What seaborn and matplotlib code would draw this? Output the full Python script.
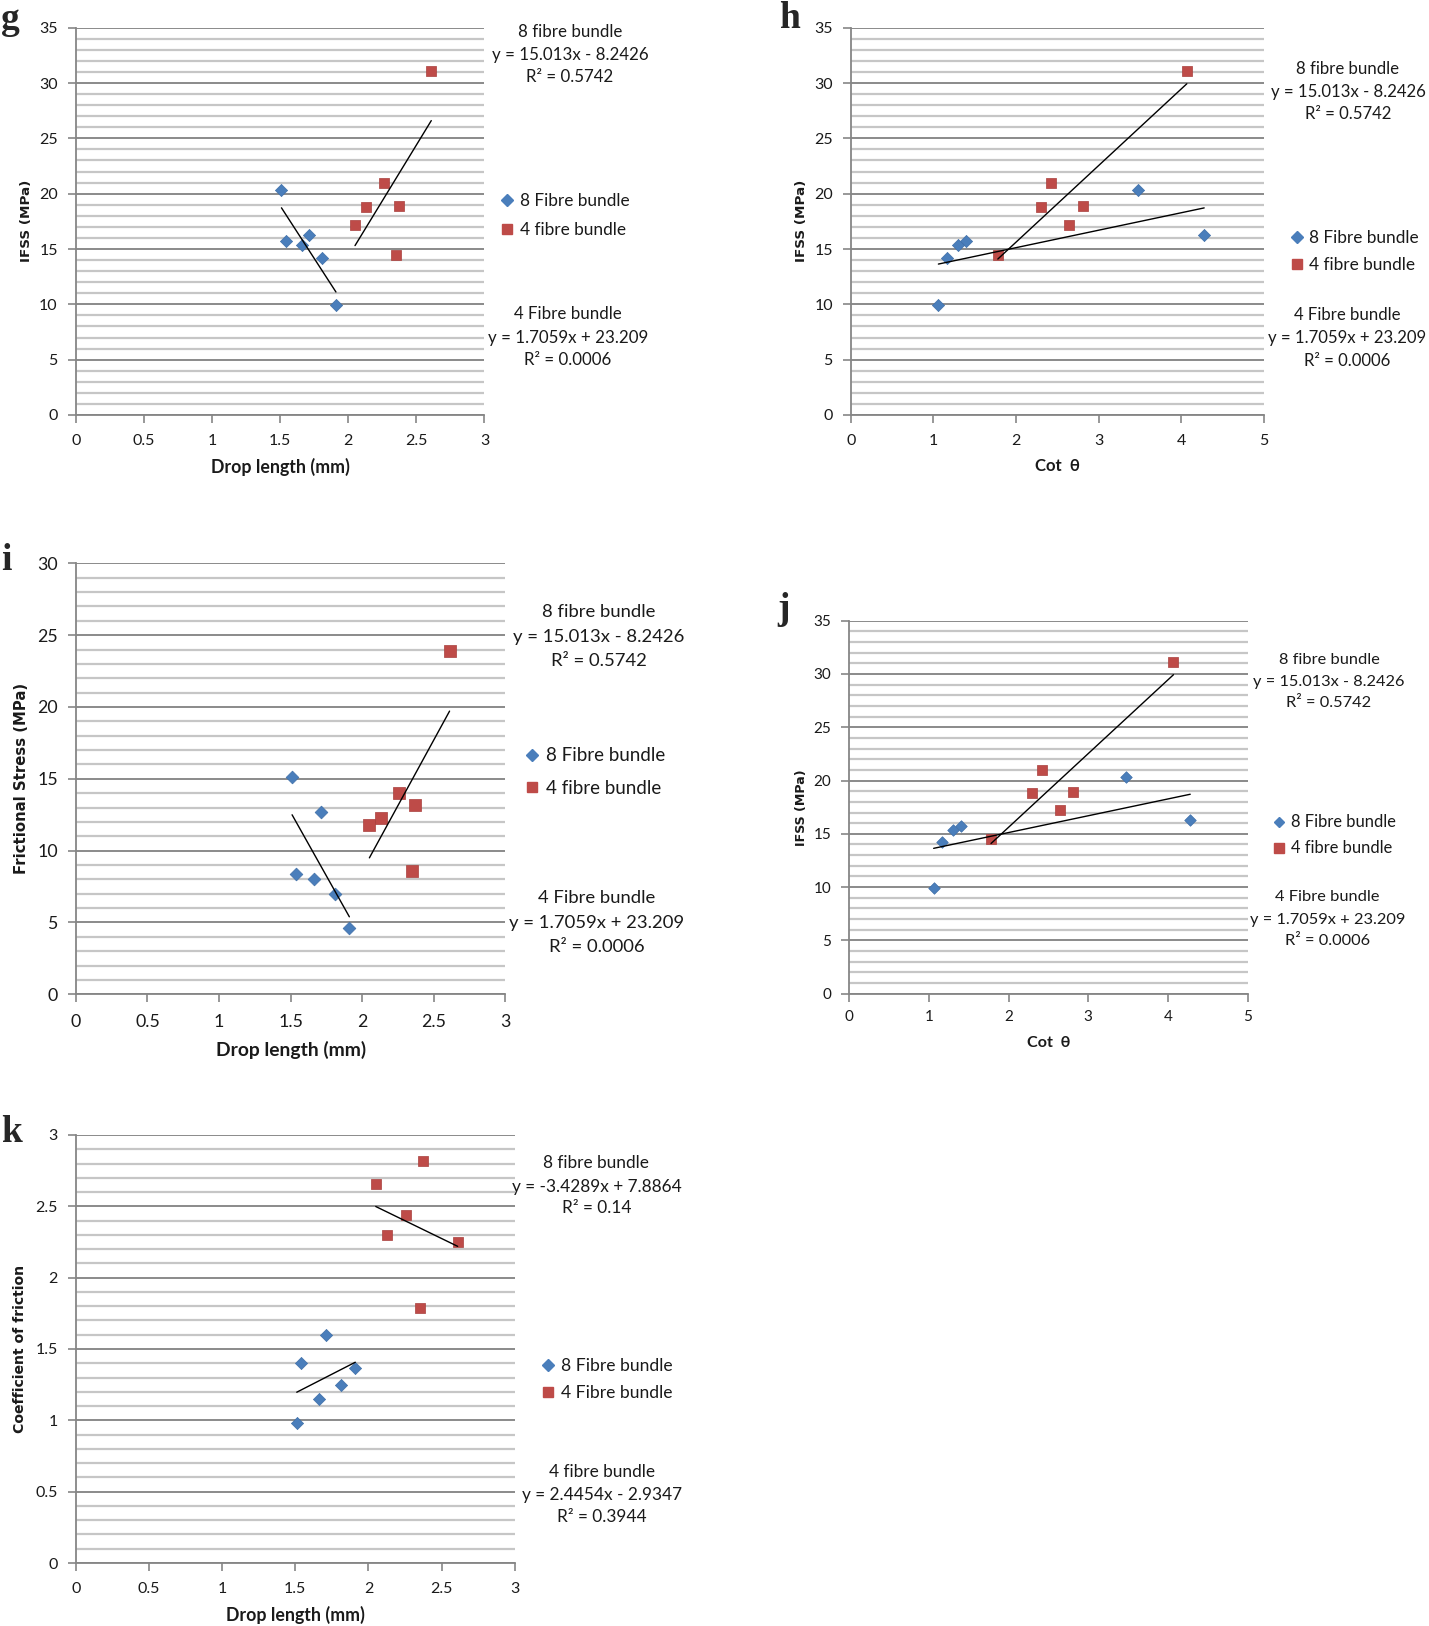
import pandas as pd
import matplotlib
matplotlib.use("Agg")
import matplotlib.pyplot as plt
import seaborn as sns
from matplotlib.lines import Line2D
from matplotlib.ticker import MultipleLocator, FuncFormatter

# values (8 fibre = blue, 4 fibre = red)
drop_8 = [1.51, 1.54, 1.66, 1.71, 1.81, 1.91]
cot_8 = [3.48, 1.40, 1.30, 4.28, 1.16, 1.06]
ifss_8 = [20.3, 15.7, 15.4, 16.3, 14.2, 9.9]
fric_8 = [15.1, 8.4, 8.0, 12.7, 7.0, 4.6]
cof_8 = [0.98, 1.40, 1.15, 1.60, 1.25, 1.37]

drop_4 = [2.05, 2.13, 2.26, 2.35, 2.37, 2.61]
cot_4 = [2.64, 2.30, 2.42, 1.78, 2.81, 4.07]
ifss_4 = [17.2, 18.8, 21.0, 14.5, 18.9, 31.1]
fric_4 = [11.8, 12.3, 14.0, 8.6, 13.2, 23.9]
cof_4 = [2.66, 2.30, 2.44, 1.79, 2.82, 2.25]

# trendline labels as printed in the figure
eq_top = ["8 fibre bundle", "y = 15.013x - 8.2426", "R² = 0.5742"]
eq_bottom = ["4 Fibre bundle", "y = 1.7059x + 23.209", "R² = 0.0006"]
eq_top_k = ["8 fibre bundle", "y = -3.4289x + 7.8864", "R² = 0.14"]
eq_bottom_k = ["4 fibre bundle", "y = 2.4454x - 2.9347", "R² = 0.3944"]

legend_labels = ["8 Fibre bundle", "4 fibre bundle"]
legend_labels_k = ["8 Fibre bundle", "4 Fibre bundle"]

sns.set_style("white")
plt.rcParams["font.family"] = ["Lato", "DejaVu Sans"]

W, H = 1429, 1626
BLUE = "#4A7EBB"
RED = "#BE4B48"
GRID_MAJOR = "#8a8a8a"
GRID_MINOR = "#c6c6c6"
AXIS_GRAY = "#868686"
TXT = "#1a1a1a"

fig = plt.figure(figsize=(W / 100, H / 100), dpi=100)


def px(x, y):
    return x / W, 1 - y / H


def panel(letter, letter_xy, box, x8, y8, x4, y4, xmax, xstep, ymax, ystep, yminor,
          xlabel, ylabel, xlab_y, ylab_x, eq1, eq1_pos, eq2, eq2_pos, labels, leg_pos, fs):
    l, r, t, b = box
    ax = fig.add_axes([l / W, 1 - b / H, (r - l) / W, (b - t) / H])

    df8 = pd.DataFrame({"x": x8, "y": y8})
    df4 = pd.DataFrame({"x": x4, "y": y4})
    sns.scatterplot(data=df8, x="x", y="y", marker="D", color=BLUE, s=fs["ms"] * 0.62,
                    linewidth=0.5, edgecolor="#3f6fa8", legend=False, ax=ax, zorder=3)
    sns.scatterplot(data=df4, x="x", y="y", marker="s", color=RED, s=fs["ms"],
                    linewidth=0.5, edgecolor="#a83f3c", legend=False, ax=ax, zorder=3)
    for d in (df8, df4):
        sns.regplot(data=d, x="x", y="y", scatter=False, ci=None, truncate=True,
                    color="black", line_kws={"lw": 1.0, "zorder": 4}, ax=ax)

    ax.set_xlim(0, xmax)
    ax.set_ylim(0, ymax)
    ax.xaxis.set_major_locator(MultipleLocator(xstep))
    ax.yaxis.set_major_locator(MultipleLocator(ystep))
    ax.yaxis.set_minor_locator(MultipleLocator(yminor))
    fmt = FuncFormatter(lambda v, p: f"{v:g}")
    ax.xaxis.set_major_formatter(fmt)
    ax.yaxis.set_major_formatter(fmt)

    ax.set_axisbelow(True)
    ax.grid(which="major", axis="y", color=GRID_MAJOR, lw=1.4)
    ax.grid(which="minor", axis="y", color=GRID_MINOR, lw=1.6)
    ax.grid(which="major", axis="x", visible=False)

    for side in ["top", "right"]:
        ax.spines[side].set_visible(False)
    for side in ["left", "bottom"]:
        ax.spines[side].set_color(AXIS_GRAY)
        ax.spines[side].set_linewidth(1.3)

    ax.tick_params(axis="x", which="major", direction="out", length=6, width=1.2,
                   color=AXIS_GRAY, pad=fs["xpad"], labelsize=fs["tick"], labelcolor=TXT, bottom=True)
    ax.tick_params(axis="y", which="major", direction="out", length=6, width=1.2,
                   color=AXIS_GRAY, pad=7, labelsize=fs["tick"], labelcolor=TXT, left=True)
    ax.tick_params(which="minor", length=0)

    ax.set_xlabel(xlabel, fontsize=fs["xl"], fontweight="bold", color=TXT)
    ax.xaxis.set_label_coords(0.5, -(xlab_y - b) / (b - t))
    ax.xaxis.label.set_va("center")
    ax.set_ylabel(ylabel, fontsize=fs["yl"], fontweight="bold", family="DejaVu Sans", color=TXT)
    ax.yaxis.set_label_coords((ylab_x - l) / (r - l), 0.5)
    ax.yaxis.label.set_va("center")

    for lines, (cx, ys) in [(eq1, eq1_pos), (eq2, eq2_pos)]:
        for s, yy in zip(lines, ys):
            fig.text(*px(cx, yy), s, ha="center", va="center", fontsize=fs["ann"], color=TXT)

    fpx = fs["leg"] * 100 / 72
    handles = [
        Line2D([], [], ls="none", marker="D", color=BLUE, markersize=fs["lm"] * 0.85),
        Line2D([], [], ls="none", marker="s", color=RED, markersize=fs["lm"]),
    ]
    lx, ly1, ly2 = leg_pos
    spacing = ((ly2 - ly1) - 1.17 * fpx) / fpx
    ax.legend(handles, labels, loc="center left",
              bbox_to_anchor=px(lx - 0.35 * fpx, (ly1 + ly2) / 2), bbox_transform=fig.transFigure,
              frameon=False, fontsize=fs["leg"], handlelength=0.7, handletextpad=0.4,
              labelspacing=spacing, borderpad=0, borderaxespad=0, labelcolor=TXT)

    fig.text(*px(*letter_xy), letter, family="Liberation Serif", fontweight="bold",
             fontsize=27, ha="left", va="baseline")
    return ax


fs_g = dict(tick=11.5, ann=12.2, leg=12.4, xl=12.8, yl=9.7, ms=62, lm=7, xpad=7.5)
fs_h = dict(tick=11.5, ann=12.1, leg=12.4, xl=12.1, yl=9.7, ms=62, lm=7, xpad=7.5)
fs_i = dict(tick=12.8, ann=13.3, leg=13.5, xl=13.9, yl=10.7, ms=68, lm=7.5, xpad=8)
fs_j = dict(tick=11, ann=11.8, leg=11.9, xl=11.6, yl=9.1, ms=56, lm=6.5, xpad=6)
fs_k = dict(tick=11.5, ann=12.4, leg=12.6, xl=12.8, yl=10.1, ms=62, lm=7, xpad=7.5)

# g
panel("g", (1, 29), (75.8, 484.4, 27.7, 415), drop_8, ifss_8, drop_4, ifss_4,
      3, 0.5, 35, 5, 1, "Drop length (mm)", "IFSS (MPa)", 466.7, 26.7,
      eq_top, (570, [32.3, 55, 77.3]), eq_bottom, (568, [314.3, 337.7, 359.7]),
      legend_labels, (507, 199, 232.3), fs_g)

# h
panel("h", (779, 28), (850.9, 1263.6, 27.7, 415), cot_8, ifss_8, cot_4, ifss_4,
      5, 1, 35, 5, 1, "Cot  θ", "IFSS (MPa)", 466, 801.8,
      eq_top, (1348, [69, 91.7, 114.3]), eq_bottom, (1347, [315, 338.3, 360.7]),
      legend_labels, (1296.5, 235.7, 266.7), fs_h)

# i
panel("i", (1, 570), (75.9, 505.4, 563.3, 994.3), drop_8, fric_8, drop_4, fric_4,
      3, 0.5, 30, 5, 1, "Drop length (mm)", "Frictional Stress (MPa)", 1050, 21.9,
      eq_top, (598.7, [611.7, 636.7, 660.7]), eq_bottom, (596.4, [898.3, 923.3, 946.7]),
      legend_labels, (532, 753.3, 790.7), fs_i)

# j
panel("j", (777, 619), (849.2, 1247.6, 620.7, 993.7), cot_8, ifss_8, cot_4, ifss_4,
      5, 1, 35, 5, 1, "Cot  θ", "IFSS (MPa)", 1042.7, 801.6,
      eq_top, (1329, [660, 682.3, 703.3]), eq_bottom, (1327.4, [897.3, 920, 940.7]),
      legend_labels, (1278.8, 820.7, 850), fs_j)

# k
panel("k", (1, 1142), (75.9, 514.7, 1135, 1563), drop_8, cof_8, drop_4, cof_4,
      3, 0.5, 3, 0.5, 0.1, "Drop length (mm)", "Coefficient of friction", 1615, 20.5,
      eq_top_k, (596.4, [1162.7, 1186.7, 1208.3]), eq_bottom_k, (601.8, [1471.7, 1495, 1517.3]),
      legend_labels_k, (548, 1364, 1395), fs_k)

fig.savefig("out.png", dpi=100, facecolor="white")
